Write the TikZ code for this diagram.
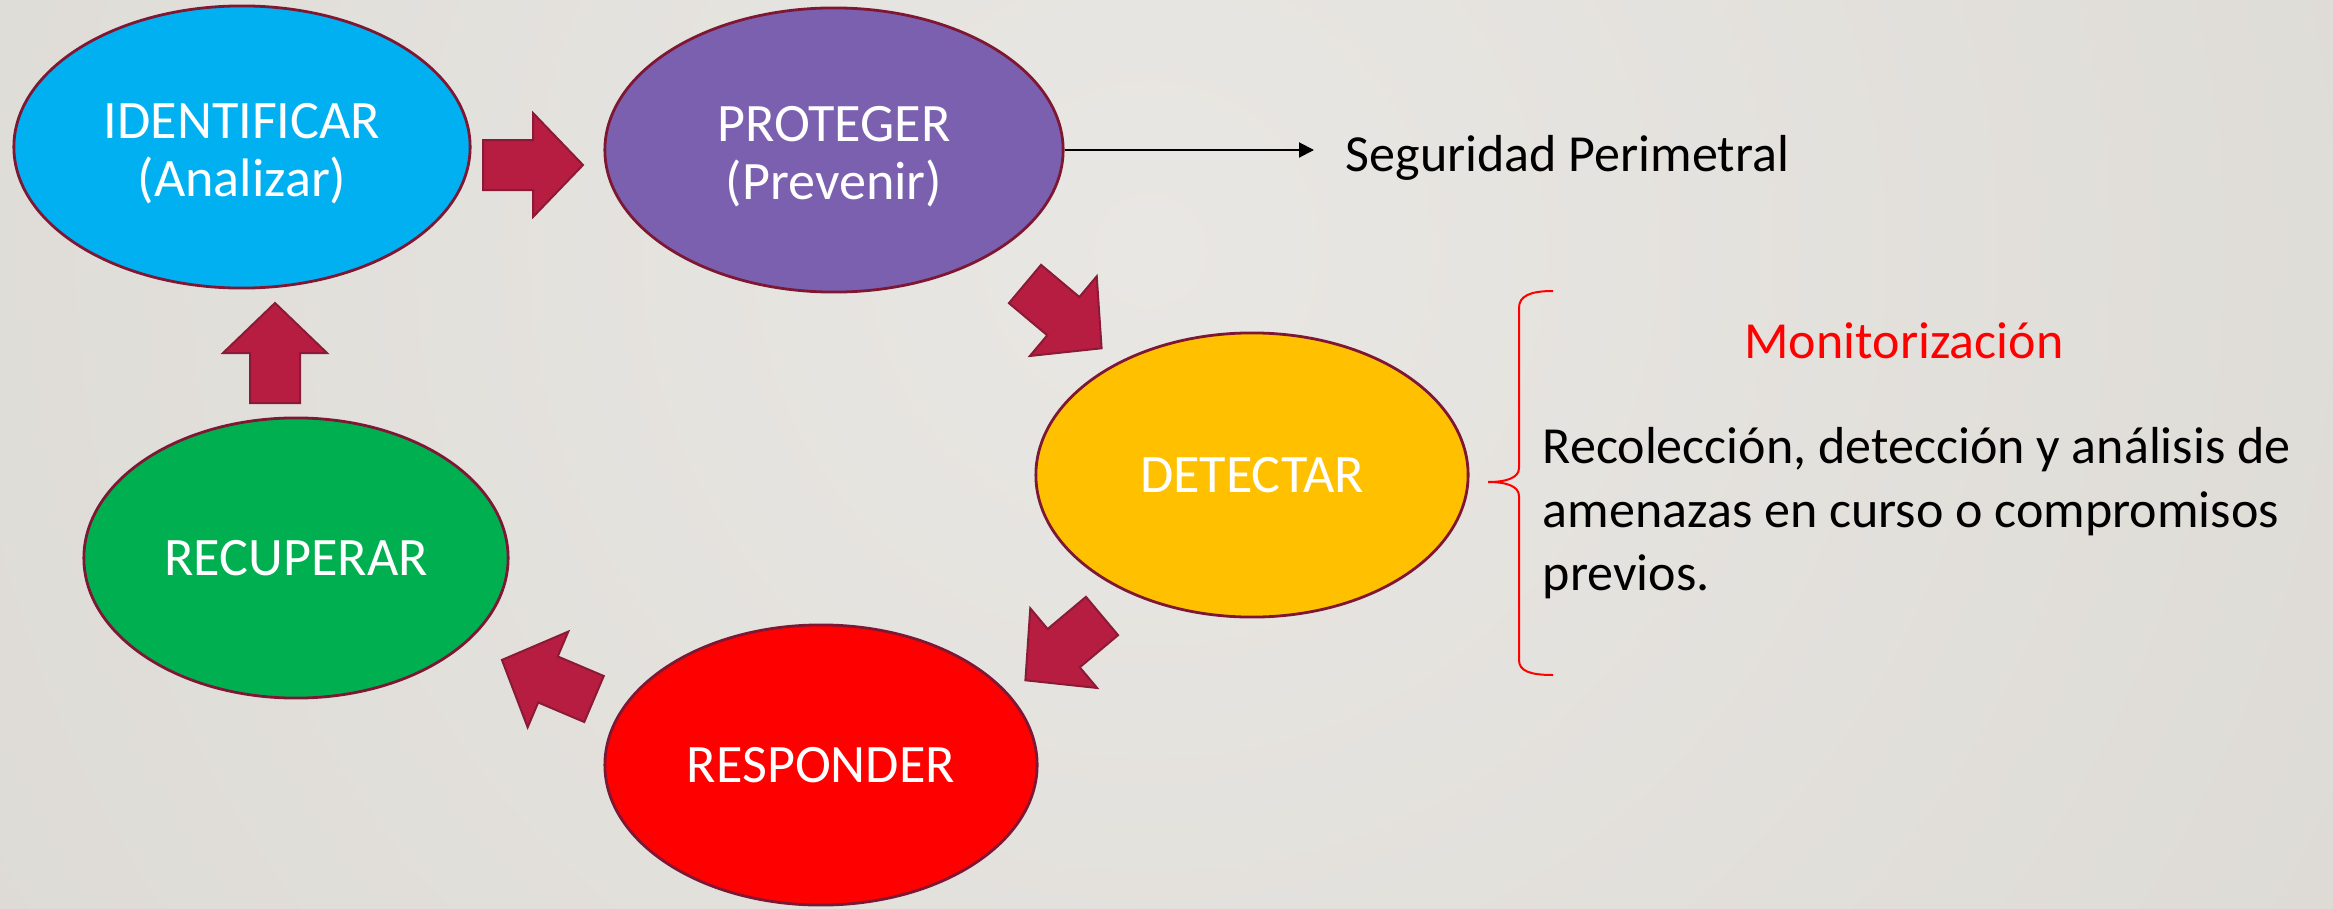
\documentclass[tikz,border=0pt]{standalone}
\usepackage{fontspec}
\setmainfont{Carlito}
\usetikzlibrary{shapes.geometric,arrows.meta}

\definecolor{bglight}{HTML}{E9E7E3}
\definecolor{bgdark}{HTML}{D3D0CA}
\definecolor{rimred}{HTML}{7E1734}
\definecolor{cyanfill}{HTML}{00B0F0}
\definecolor{purplefill}{HTML}{7B60AF}
\definecolor{amberfill}{HTML}{FFC000}
\definecolor{greenfill}{HTML}{00B050}
\definecolor{redfill}{HTML}{FF0000}
\definecolor{arrowfill}{HTML}{B71D40}
\definecolor{arrowrim}{HTML}{8A1A36}
\definecolor{bracered}{HTML}{FF0000}

\begin{document}
\begin{tikzpicture}[
  x=0.01cm, y=0.01cm,
  phase/.style={ellipse, draw=rimred, line width=0.028cm, inner sep=0pt,
    text=white, align=center, font=\fontsize{15.4}{16.2}\selectfont},
  phasetext/.style={inner sep=0pt, text=white, align=center,
    font=\fontsize{15.4}{16.4}\selectfont},
  note/.style={inner sep=0pt, font=\fontsize{14.8}{18.2}\selectfont},
  blockarrow/.pic={
    \filldraw[fill=arrowfill, draw=arrowrim, line width=0.02cm, line join=miter]
      (0,-25) -- (50,-25) -- (50,-52) -- (100,0) -- (50,52) -- (50,25) -- (0,25) -- cycle;
  }
]
\useasboundingbox (0,0) rectangle (2333,-909);

% soft grey backdrop
\begin{scope}
  \clip (0,0) rectangle (2333,-909);
  \fill[bgdark] (0,0) rectangle (2333,-909);
  \shade[inner color=bglight, outer color=bgdark] (1150,-250) circle (2600);
\end{scope}

% the five phases
\node[phase, fill=cyanfill, minimum width=4.56cm, minimum height=2.82cm]
  (ident) at (242,-147) {};
\node[phasetext] (identtxt) at (242,-154) {IDENTIFICAR\\(Analizar)};
\node[phase, fill=purplefill, minimum width=4.58cm, minimum height=2.84cm]
  (prot) at (834,-150) {};
\node[phasetext] (prottxt) at (834,-157) {PROTEGER\\(Prevenir)};
\node[phase, fill=amberfill, minimum width=4.32cm, minimum height=2.84cm]
  (detect) at (1252,-475) {DETECTAR};
\node[phase, fill=redfill, minimum width=4.32cm, minimum height=2.80cm]
  (resp) at (821,-765) {RESPONDER};
\node[phase, fill=greenfill, minimum width=4.24cm, minimum height=2.80cm]
  (recup) at (296,-558) {RECUPERAR};

% block arrows of the cycle
\pic at (483,-165) {blockarrow};
\pic[rotate=-40] at (1025,-284) {blockarrow};
\pic[rotate=220] at (1102,-616) {blockarrow};
\pic[rotate=157] at (594,-699) {blockarrow};
\pic[rotate=90] at (275,-403) {blockarrow};

% perimeter security
\node[note, anchor=base west] (seg) at (1345,-171) {Seguridad Perimetral};
\coordinate (segin) at (1314,-150);
\draw[line width=0.02cm, -{Triangle[length=0.15cm,width=0.15cm]}]
  (prot.east) -- (segin);

% monitoring brace and description
\draw[bracered, line width=0.02cm]
  (1553,-291) .. controls (1530,-291) and (1519,-296) .. (1519,-308)
  -- (1519,-468) .. controls (1519,-478) and (1506,-482) .. (1488,-482)
  .. controls (1506,-482) and (1519,-486) .. (1519,-496)
  -- (1519,-660) .. controls (1519,-671) and (1530,-675) .. (1553,-675);

\node[note, anchor=base, text=bracered] (monit) at (1904,-358) {Monitorización};
\node[note, anchor=base west] (desc1) at (1542,-463) {Recolección, detección y análisis de};
\node[note, anchor=base west] (desc2) at (1542,-527) {amenazas en curso o compromisos};
\node[note, anchor=base west] (desc3) at (1542,-590) {previos.};
\end{tikzpicture}
\end{document}
